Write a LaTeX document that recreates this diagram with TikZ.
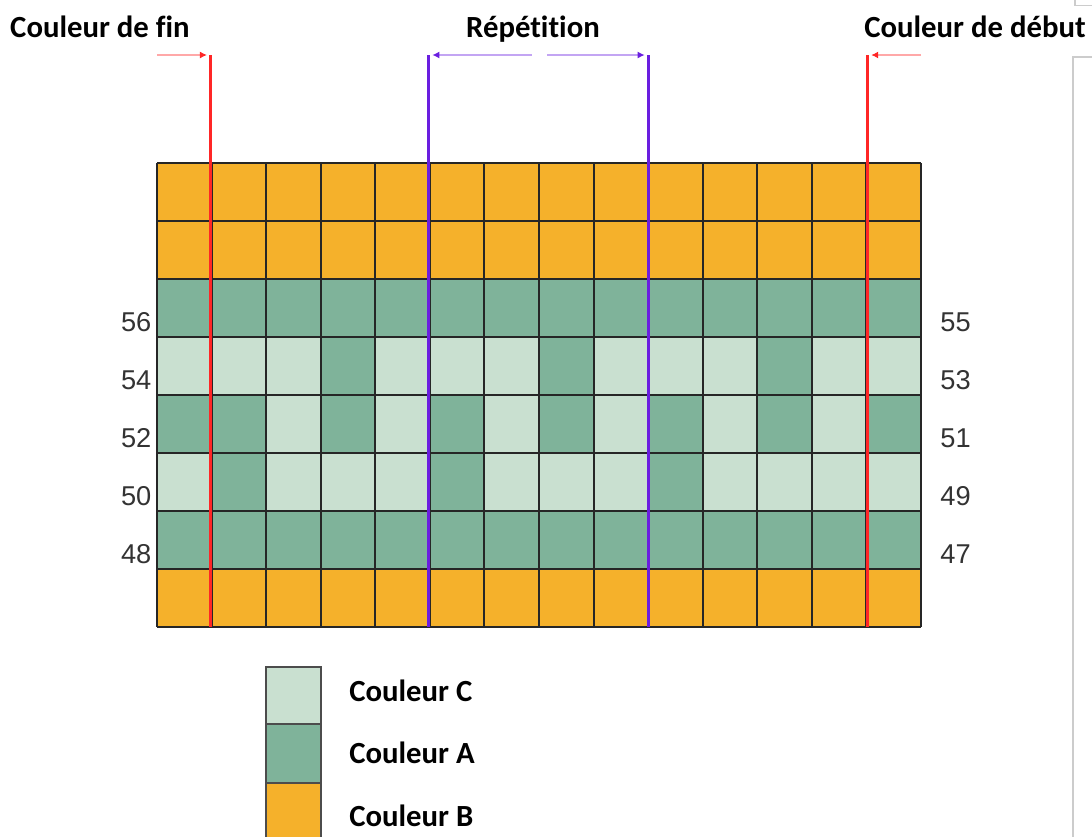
\documentclass[tikz,border=0pt]{standalone}
\usepackage{fontspec}
\setmainfont{Liberation Sans}
\newfontfamily\calfont[Ligatures={NoCommon,NoRare,NoContextual}]{Carlito}
\usetikzlibrary{arrows.meta}
\definecolor{colA}{HTML}{7FB39A}
\definecolor{colB}{HTML}{F5B12B}
\definecolor{colC}{HTML}{C9E0D0}
\definecolor{redline}{HTML}{FF2626}
\definecolor{purpleline}{HTML}{6A1EE0}

\begin{document}
\begin{tikzpicture}[xscale=1.0914,yscale=1.16,
  title/.style={font=\calfont\bfseries\fontsize{17.5}{20}\selectfont,inner sep=0pt,anchor=base},
  rownum/.style={font=\fontsize{15.5}{18}\selectfont,text=black!80,inner sep=0pt},
  legend/.style={font=\calfont\bfseries\fontsize{17.5}{20}\selectfont,inner sep=0pt,anchor=base west},
  gridline/.style={draw=black!85,line width=1.1pt},
  endline/.style={draw=redline,line width=1.7pt},
  repline/.style={draw=purpleline,line width=1.7pt},
  endarrow/.style={draw=redline!40,line width=1.5pt,shorten >=2pt,-{Latex[length=4pt,width=4pt,color=redline]}},
  reparrow/.style={draw=purpleline!40,line width=1.5pt,shorten >=2pt,-{Latex[length=4pt,width=4pt,color=purpleline]}}]
\useasboundingbox (-2.877,-3.621) rectangle (17.134,10.81);

% rows of the chart
\fill[colB] (0,0) rectangle (14,1);
\fill[colB] (0,6) rectangle (14,8);
\fill[colA] (0,1) rectangle (14,6);

\fill[colC] (0,4) rectangle (3,5);
\fill[colC] (4,4) rectangle (7,5);
\fill[colC] (8,4) rectangle (11,5);
\fill[colC] (12,4) rectangle (14,5);

\fill[colC] (2,3) rectangle (3,4);
\fill[colC] (4,3) rectangle (5,4);
\fill[colC] (6,3) rectangle (7,4);
\fill[colC] (8,3) rectangle (9,4);
\fill[colC] (10,3) rectangle (11,4);
\fill[colC] (12,3) rectangle (13,4);

\fill[colC] (0,2) rectangle (1,3);
\fill[colC] (2,2) rectangle (5,3);
\fill[colC] (6,2) rectangle (9,3);
\fill[colC] (10,2) rectangle (14,3);

\draw[gridline] (0,0) grid (14,8);

% row numbers
\node[rownum,anchor=base east] (n56) at (-0.097,5.09) {56};
\node[rownum,anchor=base east] (n54) at (-0.097,4.09) {54};
\node[rownum,anchor=base east] (n52) at (-0.097,3.09) {52};
\node[rownum,anchor=base east] (n50) at (-0.097,2.09) {50};
\node[rownum,anchor=base east] (n48) at (-0.097,1.09) {48};
\node[rownum,anchor=base west] (n55) at (14.35,5.09) {55};
\node[rownum,anchor=base west] (n53) at (14.35,4.09) {53};
\node[rownum,anchor=base west] (n51) at (14.35,3.09) {51};
\node[rownum,anchor=base west] (n49) at (14.35,2.09) {49};
\node[rownum,anchor=base west] (n47) at (14.35,1.09) {47};

% titles
\node[title] (fin) at (-1.045,10.155) {Couleur de fin};
\node[title] (rep) at (6.89,10.155) {Répétition};
\node[title] (debut) at (14.99,10.155) {Couleur de début};

% markers
\coordinate (finTop) at (0.98,9.86);
\coordinate (finBot) at (0.98,0);
\coordinate (finTail) at (0,9.86);
\coordinate (debTop) at (13.02,9.86);
\coordinate (debBot) at (13.02,0);
\coordinate (debTail) at (14,9.86);
\coordinate (repLTop) at (4.98,9.86);
\coordinate (repLBot) at (4.98,0);
\coordinate (repRTop) at (9,9.86);
\coordinate (repRBot) at (9,0);
\coordinate (repLTail) at (6.87,9.86);
\coordinate (repRTail) at (7.15,9.86);

\path[endarrow] (finTail) -- (finTop);
\path[endarrow] (debTail) -- (debTop);
\path[reparrow] (repLTail) -- (repLTop);
\path[reparrow] (repRTail) -- (repRTop);

\path[endline] (finTop) -- (finBot);
\path[endline] (debTop) -- (debBot);
\path[repline] (repLTop) -- (repLBot);
\path[repline] (repRTop) -- (repRBot);

% legend
\filldraw[fill=colC,draw=black!70,line width=1pt] (2,-0.684) rectangle (3,-1.672);
\filldraw[fill=colA,draw=black!70,line width=1pt] (2,-1.672) rectangle (3,-2.684);
\filldraw[fill=colB,draw=black!70,line width=1pt] (2,-2.684) rectangle (3,-3.7);
\node[legend] (legC) at (3.518,-1.288) {Couleur C};
\node[legend] (legA) at (3.518,-2.362) {Couleur A};
\node[legend] (legB) at (3.518,-3.443) {Couleur B};

% side frame
\draw[gray!40,line width=0.8pt] (16.786,-3.621) -- (16.786,9.83) -- (17.134,9.83);
\draw[gray!40,line width=0.8pt] (16.82,10.81) -- (16.82,10.72) -- (17.134,10.72);
\end{tikzpicture}
\end{document}
